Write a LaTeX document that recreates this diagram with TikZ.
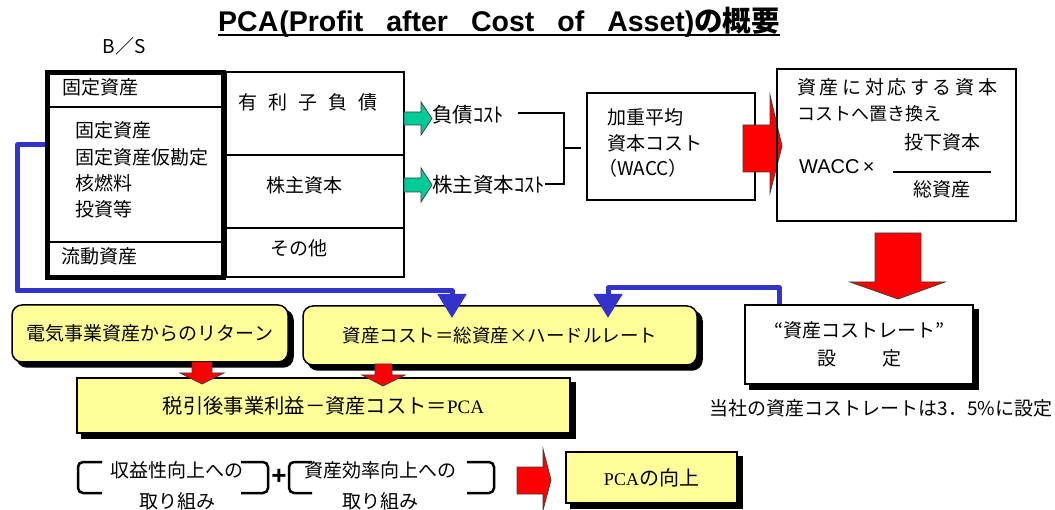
\documentclass[tikz,border=0pt]{standalone}
\usepackage{fontspec}
\setmainfont{Liberation Sans}
\newfontfamily\jp{Noto Sans CJK JP}
\newfontfamily\jpsp[LetterSpace=19]{Noto Sans CJK JP}
\newfontfamily\tms{Liberation Serif}
\usetikzlibrary{arrows.meta}
\definecolor{yel}{RGB}{255,255,153}
\definecolor{grn}{RGB}{0,204,153}
\definecolor{blu}{RGB}{51,51,204}
\definecolor{rd}{RGB}{255,0,0}
\tikzset{
  jt/.style={font=\jp\fontsize{19}{25}\selectfont, inner sep=0pt},
  cell/.style={draw, line width=1.5pt, inner sep=0pt},
  shbox/.style={draw, line width=1.5pt, inner sep=0pt, preaction={fill=black, draw=black, transform canvas={shift={(5pt,-5pt)}}}},
  ybox/.style={shbox, fill=yel},
  yrbox/.style={ybox, rounded corners=10pt},
  bluline/.style={draw=blu, line width=5pt, line join=round, -{Triangle[width=28pt,length=24pt]}},
  garrow/.style={fill=grn, draw=black!75, line width=0.8pt},
  rarrow/.style={fill=rd, draw=black!75, line width=0.8pt},
  link/.style={line width=1.5pt},
  brk/.style={line width=2.5pt, rounded corners=5pt},
}
\begin{document}
\begin{tikzpicture}[x=1pt,y=-1pt]
\useasboundingbox[fill=white] (0,0) rectangle (1055,510);
% title
\node[anchor=base west, inner sep=0pt, font=\bfseries\fontsize{28.5}{32}\selectfont] (title) at (218,32)
 {PCA\kern1pt(Profit\hspace{23pt}after\hspace{23pt}Cost\hspace{23pt}of\hspace{23pt}Asset){\jp\bfseries の概要}};
\draw[line width=2pt] ([yshift=-3.5pt]title.base west) -- ([yshift=-3.5pt]title.base east);
\node[jt, font=\jp\fontsize{19}{22}\selectfont] (bs) at (124,46) {B／S};
% balance sheet
\node[cell, minimum width=178pt, minimum height=205pt] (bsr) at (315,174.5) {};
\draw[link] (226,155) -- (404,155);
\draw[link] (226,228) -- (404,228);
\node[draw, line width=5pt, fill=white, minimum width=176pt, minimum height=205pt, inner sep=0pt] (bsl) at (135.5,175) {};
\draw[link] (47.5,107) -- (223.5,107);
\draw[link] (47.5,242) -- (223.5,242);
\node[jt, anchor=west] (fa) at (62,87) {固定資産};
\node[jt, anchor=west] (fa2a) at (75,130) {固定資産};
\node[jt, anchor=west] (fa2b) at (75,157) {固定資産仮勘定};
\node[jt, anchor=west] (fa2c) at (75,183) {核燃料};
\node[jt, anchor=west] (fa2d) at (75,209) {投資等};
\node[jt, anchor=west] (ca) at (61,256) {流動資産};
\node[jt] (debt) at (308,102) {有\hspace{11pt}利\hspace{11pt}子\hspace{11pt}負\hspace{11pt}債};
\node[jt] (eq) at (304,185) {株主資本};
\node[jt] (oth) at (299,248) {その他};
% green arrows and cost labels
\filldraw[garrow] (404,112) -- (421,112) -- (421,102) -- (432,118.5) -- (421,135) -- (421,125) -- (404,125) -- cycle;
\filldraw[garrow] (404,178) -- (421,178) -- (421,168) -- (432,185) -- (421,202) -- (421,192) -- (404,192) -- cycle;
\node[jt, font=\jp\fontsize{20.5}{24}\selectfont, anchor=west] (dc) at (432,115) {負債ｺｽﾄ};
\node[jt, font=\jp\fontsize{20.5}{24}\selectfont, anchor=west] (ec) at (432,185) {株主資本ｺｽﾄ};
\coordinate (j0) at (518,113);
\coordinate (j1) at (564,113);
\coordinate (j2) at (564,184);
\coordinate (jm) at (564,148);
\coordinate (jw) at (581,148);
\draw[link] (j0) -- (j1) -- (j2) -- (ec.east |- j2);
\draw[link] (jm) -- (jw);
% WACC box
\node[cell, minimum width=168pt, minimum height=107pt] (wacc) at (671,146.5) {};
\node[jt, anchor=west] (w1) at (607,117) {加重平均};
\node[jt, anchor=west] (w2) at (607,143) {資本コスト};
\node[jt, anchor=west] (w3) at (598,168) {（WACC）};
\filldraw[rarrow] (743,125) -- (770,125) -- (770,95) -- (782,146) -- (770,193) -- (770,172) -- (743,172) -- cycle;
% right box
\node[draw, line width=2pt, minimum width=239pt, minimum height=152pt, inner sep=0pt] (rbox) at (896.5,145) {};
\node[jt, anchor=west, font=\jpsp\fontsize{19}{22}\selectfont] (r1) at (797,87) {資産に対応する資本};
\node[jt, anchor=west, font=\jp\fontsize{18}{22}\selectfont] (r2) at (797,114) {コストへ置き換え};
\node[jt] (r3) at (942,142) {投下資本};
\node[anchor=west, inner sep=0pt, font=\fontsize{20}{22}\selectfont] (r4) at (799,167) {WACC\,×};
\draw[link] (893,172) -- (991,172);
\node[jt] (r5) at (942,189) {総資産};
\filldraw[rarrow] (875,233) -- (921,233) -- (921,282) -- (945,282) -- (898,299) -- (850,282) -- (875,282) -- cycle;
% rate box
\node[shbox, fill=white, jt, font=\jp\fontsize{19}{28}\selectfont, align=center, minimum width=228pt, minimum height=79pt] (rate) at (859,344.5) {“資産コストレート”\\設\hspace{46pt}定};
\node[jt] (note) at (881,408) {当社の資産コストレートは3．5\%に設定};
% yellow boxes
\node[yrbox, jt, minimum width=276pt, minimum height=57pt] (yb1) at (150,333.5) {電気事業資産からのリターン};
\node[yrbox, jt, font=\jp\fontsize{18.5}{22}\selectfont, minimum width=394pt, minimum height=59pt] (yb2) at (500,335.5) {資産コスト＝総資産×ハードルレート};
\node[ybox, jt, font=\jp\fontsize{20.3}{24}\selectfont, minimum width=493pt, minimum height=55pt] (yb3) at (323.5,405.5) {税引後事業利益－資産コスト＝{\tms\fontsize{19}{24}\selectfont PCA}};
\node[ybox, jt, font=\jp\fontsize{20}{24}\selectfont, minimum width=171pt, minimum height=51pt] (yb4) at (651.5,477.5) {{\tms\fontsize{18}{24}\selectfont PCA}の向上};
% small red arrows
\filldraw[rarrow] (192,362) -- (212,362) -- (212,373) -- (224,373) -- (202,384) -- (180,373) -- (192,373) -- cycle;
\filldraw[rarrow] (375,364) -- (392,364) -- (392,375) -- (405,375) -- (383,386) -- (362,375) -- (375,375) -- cycle;
\filldraw[rarrow] (517,467) -- (543,467) -- (543,449) -- (551,480) -- (543,510) -- (543,494) -- (517,494) -- cycle;
% blue connectors
\coordinate (tipA) at (452,318);
\coordinate (tipB) at (608,318);
\coordinate (bx) at (779,0);
\draw[bluline] ([yshift=30pt]bsl.west) -- ++(-28,0) |- (452,291) -- (tipA);
\draw[bluline] (rate.north -| bx) -- (779,288) -- (608,288) -- (tipB);
% brackets
\draw[brk] (102,462) -- (78,462) -- (78,493) -- (102,493);
\draw[brk] (241,462) -- (268,462) -- (268,493) -- (241,493);
\draw[brk] (312,462) -- (289,462) -- (289,493) -- (312,493);
\draw[brk] (467,462) -- (494,462) -- (494,493) -- (467,493);
\node[jt] (g1a) at (177,470) {収益性向上への};
\node[jt] (g1b) at (177,501) {取り組み};
\node[jt] (g2a) at (380,470) {資産効率向上への};
\node[jt] (g2b) at (380,501) {取り組み};
\node[inner sep=0pt, font=\bfseries\fontsize{26}{28}\selectfont] (plus) at (279,477) {+};
\end{tikzpicture}
\end{document}
